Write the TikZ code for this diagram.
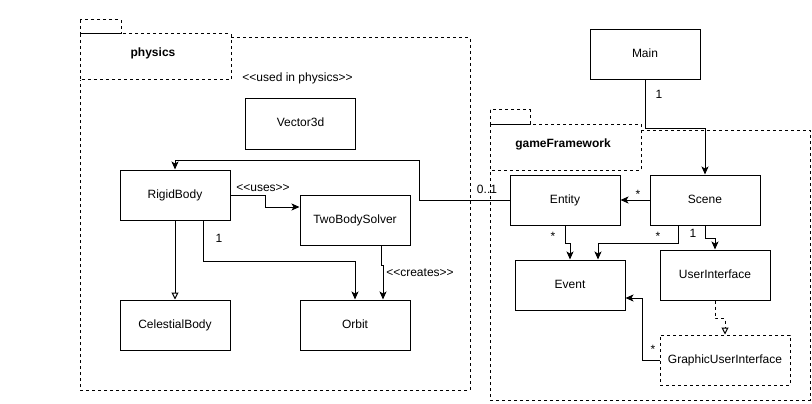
\documentclass[tikz,border=0pt]{standalone}
\usepackage{fontspec}
\setmainfont{Liberation Sans}[Ligatures=TeXOff]
\usetikzlibrary{arrows.meta}
\tikzset{
  txt/.style={font=\fontsize{12}{14}\selectfont,text height=9pt,text depth=3pt},
  cls/.style={txt,draw,line width=1pt,minimum width=110pt,minimum height=50pt,inner sep=0pt},
  pkg/.style={draw,line width=1pt,dash pattern=on 3pt off 3pt},
  lbl/.style={txt,inner sep=0pt},
  arr/.style={line width=1pt,-{Stealth[length=8pt,width=7pt,inset=2pt]}},
  gen/.style={line width=1pt,-{Triangle[open,length=7pt,width=7pt]}}
}
\begin{document}
\begin{tikzpicture}[x=1pt,y=-1pt]
		\useasboundingbox (0,0) rectangle (812,404);
		% packages
		\draw[pkg] (80,20) rectangle (121,34) (80,34) rectangle (231,80) (231,38) -| (470,390) -| (80,80);
		\draw[pkg] (490,110) rectangle (530,124) (490,124) rectangle (641,170) (641,130) -| (810,400) -| (490,170);
		\node[lbl,font=\fontsize{12}{14}\selectfont\bfseries] (physics) at (153,54) {physics};
		\node[lbl,font=\fontsize{12}{14}\selectfont\bfseries] (gameFw) at (563,144.5) {gameFramework};
		% classes
		\foreach \n/\x/\y/\t in {main/645/55/Main,vec/300.5/124/Vector3d,rb/175/195/RigidBody,tbs/355/220/TwoBodySolver,cel/175/325/CelestialBody,orb/355/325/Orbit,ent/565/200/Entity,scn/705/200/Scene,evt/570/285/Event,ui/715/275/UserInterface}
		\node[cls] (\n) at (\x,\y) {\t};
		\node[cls,pkg,minimum width=130pt] (gui) at (725,360) {GraphicUserInterface};
		% labels
		\foreach \n/\x/\y/\t in {lUsed/297.5/79/{<<used in physics>>},lUses/263/188/{<<uses>>},lCreates/420/273/{<<creates>>},lRbOrb/219/239/1,lEntRb/487/190/0..1,lMain/659/96/1,lScnEnt/638/195.5/*,lEntEvt/553/237/*,lScnEvt/658/237/*,lScnUi/693/234/1,lGuiEvt/653/350.5/*}
		\node[lbl] (\n) at (\x,\y) {\t};
		% connectors
		\draw[arr] (ent.west) -- ++(-90,0) |- ([yshift=9pt]rb.north) -- (rb.north);
		\draw[arr] (rb.east) -- ++(35,0) |- ([yshift=13pt]tbs.west);
		\draw[gen] (rb) -- (cel);
		\draw[arr] ([xshift=28pt]rb.south) -- ++(0,41) -| (orb.north);
		\draw[arr] ([xshift=26pt]tbs.south) -- ++(0,20) -| ([xshift=28pt]orb.north);
		\draw[arr] (main.south) -- ++(0,48) -| (scn.north);
		\draw[arr] (scn.west) -- (ent.east);
		\draw[arr] (ent.south) -- ++(0,18) -| (evt.north);
		\draw[arr] ([xshift=-27pt]scn.south) -- ++(0,18) -| ([xshift=28pt]evt.north);
		\draw[arr] (scn.south) -- ++(0,13) -| (ui.north);
		\draw[gen,dash pattern=on 3pt off 3pt] (ui.south) -- ++(0,18) -| (gui.north);
		\draw[arr] (gui.west) -- ++(-17,0) |- ([yshift=-13pt]evt.east);
	\end{tikzpicture}
\end{document}
